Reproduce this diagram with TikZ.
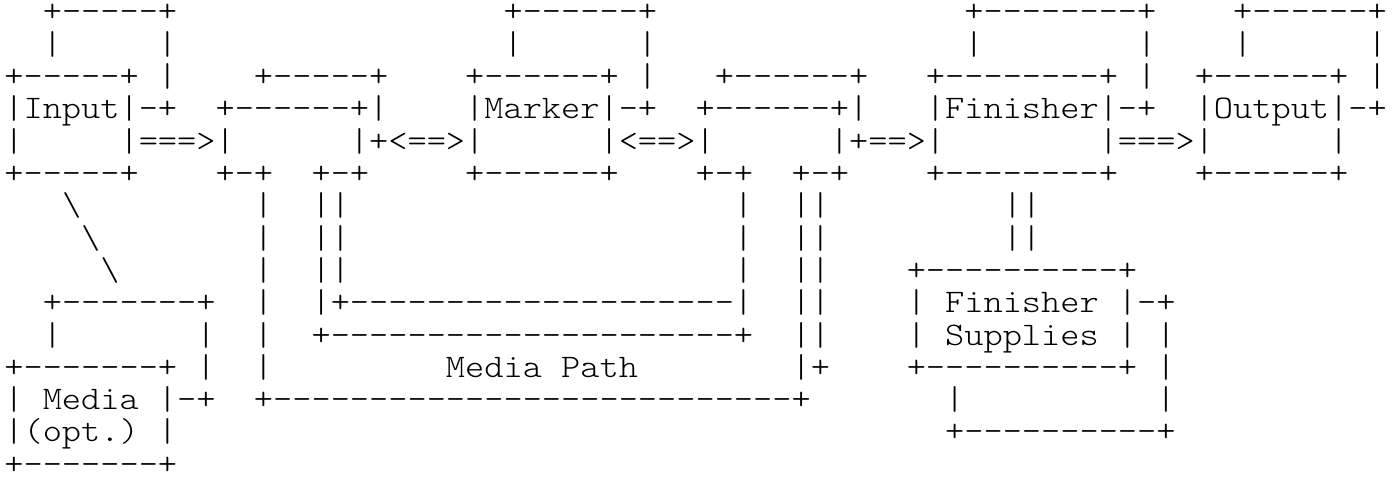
\documentclass[tikz,border=0pt]{standalone}
\usepackage{fontspec}
\usepackage{graphicx}
% Light Latin Modern typewriter, loaded by file so no TeX ligatures apply
\newfontfamily\asciifont{lmmonolt10-regular.otf}
\ExplSyntaxOn
\cs_new:Npn \asciirep #1#2 { \prg_replicate:nn {#1} {#2} }
\ExplSyntaxOff
% one character cell is 19.2pt wide
\newcommand\gap[1]{\hspace*{\dimexpr 19.2pt*#1\relax}}
\newcommand\dsh[1]{\asciirep{#1}{-}}
\newcommand\bsl{\textbackslash}
% glyphs are set slightly condensed in height
\newcommand\asciiline[1]{\scalebox{1}[0.9]{#1}}
\begin{document}
\begin{tikzpicture}[x=1pt,y=1pt,
  row/.style={anchor=base west, inner sep=0pt, outer sep=0pt,
    text height=18pt, text depth=2pt,
    font=\asciifont\fontsize{36.571pt}{32.3pt}\selectfont}]
\useasboundingbox (0,0) rectangle (1400,477);
% baseline of line r sits at 455.0 - 32.3 r
\node[row] (r0)  at (4.4,455.0) {\asciiline{\gap2+\dsh5+\gap{17}+\dsh6+\gap{16}+\dsh8+\gap4+\dsh6+}};
\node[row] (r1)  at (4.4,422.7) {\asciiline{\gap2|\gap5|\gap{17}|\gap6|\gap{16}|\gap8|\gap4|\gap6|}};
\node[row] (r2)  at (4.4,390.4) {\asciiline{+\dsh5+\gap1|\gap4+\dsh5+\gap4+\dsh6+\gap1|\gap3+\dsh6+\gap3+\dsh8+\gap1|\gap2+\dsh6+\gap1|}};
\node[row] (r3)  at (4.4,358.1) {\asciiline{|Input|-+\gap2+\dsh6+|\gap4|Marker|-+\gap2+\dsh6+|\gap3|Finisher|-+\gap2|Output|-+}};
\node[row] (r4)  at (4.4,325.8) {\asciiline{|\gap5|===>|\gap6|+<==>|\gap6|<==>|\gap6|+==>|\gap8|===>|\gap6|}};
\node[row] (r5)  at (4.4,293.5) {\asciiline{+\dsh5+\gap4+-+\gap2+-+\gap5+\dsh6+\gap4+-+\gap2+-+\gap4+\dsh8+\gap4+\dsh6+}};
\node[row] (r6)  at (4.4,261.2) {\asciiline{\gap3\bsl\gap9|\gap2||\gap{20}|\gap2||\gap9||}};
\node[row] (r7)  at (4.4,228.9) {\asciiline{\gap4\bsl\gap8|\gap2||\gap{20}|\gap2||\gap9||}};
\node[row] (r8)  at (4.4,196.6) {\asciiline{\gap5\bsl\gap7|\gap2||\gap{20}|\gap2||\gap4+\dsh{10}+}};
\node[row] (r9)  at (4.4,164.3) {\asciiline{\gap2+\dsh7+\gap2|\gap2|+\dsh{20}|\gap2||\gap4|\gap1Finisher\gap1|-+}};
\node[row] (r10) at (4.4,132.0) {\asciiline{\gap2|\gap7|\gap2|\gap2+\dsh{21}+\gap2||\gap4|\gap1Supplies\gap1|\gap1|}};
\node[row] (r11) at (4.4,99.7)  {\asciiline{+\dsh7+\gap1|\gap2|\gap9Media\gap1Path\gap8|+\gap4+\dsh{10}+\gap1|}};
\node[row] (r12) at (4.4,67.4)  {\asciiline{|\gap1Media\gap1|-+\gap2+\dsh{27}+\gap7|\gap{10}|}};
\node[row] (r13) at (4.4,35.1)  {\asciiline{|(opt.)\gap1|\gap{40}+\dsh{10}+}};
\node[row] (r14) at (4.4,2.8)   {\asciiline{+\dsh7+}};
\end{tikzpicture}
\end{document}
